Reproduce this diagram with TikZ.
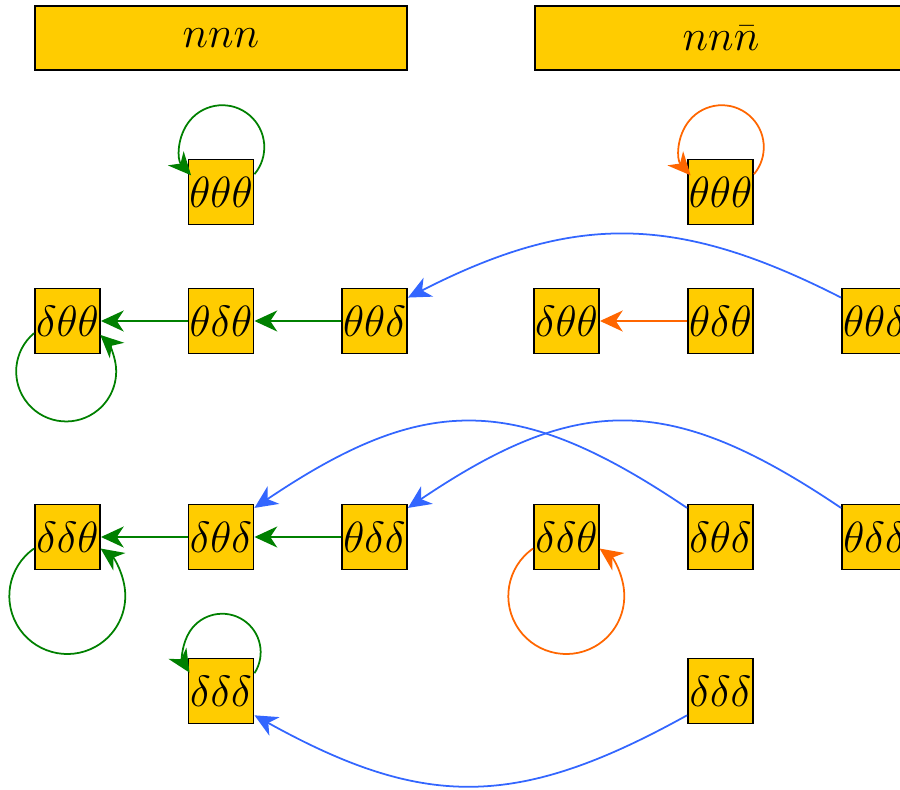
\documentclass[tikz,border=0pt]{standalone}
\usetikzlibrary{arrows.meta}
\definecolor{boxfill}{HTML}{FFCC00}
\definecolor{gr}{HTML}{008000}
\definecolor{orng}{HTML}{FF6600}
\definecolor{blu}{HTML}{3366FF}
\begin{document}
\begin{tikzpicture}[x=0.02cm,y=0.02cm,
  font=\fontsize{23}{27}\selectfont,
  state/.style={draw=black,line width=1.1pt,fill=boxfill,minimum size=1.3cm,inner sep=0pt},
  header/.style={draw=black,line width=1.1pt,fill=boxfill,minimum width=7.44cm,minimum height=1.28cm,inner sep=0pt},
  tip/.style={-{Stealth[length=13pt,width=12pt,inset=4pt]}},
  gline/.style={tip,draw=gr,line width=1pt},
  oline/.style={tip,draw=orng,line width=1pt},
  bline/.style={tip,draw=blu,line width=1pt}]
\useasboundingbox (0,0) rectangle (900,789);
\clip (0,0) rectangle (900,789);

% column headers
\node[header] (hA) at (221,751) {$nnn$};
\node[header] (hB) at (721,751) {$nn\bar{n}$};

% states, left block
\node[state] (a-ttt) at (221,597) {$\theta\theta\theta$};
\node[state] (a-dtt) at (67.5,468) {$\delta\theta\theta$};
\node[state] (a-tdt) at (221,468) {$\theta\delta\theta$};
\node[state] (a-ttd) at (374.5,468) {$\theta\theta\delta$};
\node[state] (a-ddt) at (67.5,252) {$\delta\delta\theta$};
\node[state] (a-dtd) at (221,252) {$\delta\theta\delta$};
\node[state] (a-tdd) at (374.5,252) {$\theta\delta\delta$};
\node[state] (a-ddd) at (221,98) {$\delta\delta\delta$};

% states, right block
\node[state] (b-ttt) at (720.5,597) {$\theta\theta\theta$};
\node[state] (b-dtt) at (566.5,468) {$\delta\theta\theta$};
\node[state] (b-tdt) at (720.5,468) {$\theta\delta\theta$};
\node[state] (b-ttd) at (874.5,468) {$\theta\theta\delta$};
\node[state] (b-ddt) at (566.5,252) {$\delta\delta\theta$};
\node[state] (b-dtd) at (720.5,252) {$\delta\theta\delta$};
\node[state] (b-tdd) at (874.5,252) {$\theta\delta\delta$};
\node[state] (b-ddd) at (720.5,98) {$\delta\delta\delta$};

% self loops
\draw[gline] (a-ttt.28) arc[start angle=-40,end angle=222,radius=0.84cm];
\draw[oline] (b-ttt.28) arc[start angle=-40,end angle=222,radius=0.84cm];
\draw[gline] (a-dtt.200) arc[start angle=130,end angle=407,radius=1.0cm];
\draw[gline] (a-ddt.199) arc[start angle=125,end angle=415,radius=1.16cm];
\draw[oline] (b-ddt.199) arc[start angle=125,end angle=415,radius=1.16cm];
\draw[gline] (a-ddd.28) arc[start angle=-33,end angle=212,radius=0.77cm];

% straight transitions
\draw[gline] (a-tdt) -- (a-dtt);
\draw[gline] (a-ttd) -- (a-tdt);
\draw[oline] (b-tdt) -- (b-dtt);
\draw[gline] (a-dtd) -- (a-ddt);
\draw[gline] (a-tdd) -- (a-dtd);

% transitions between the blocks
\draw[bline] (b-ttd.145) to[out=153,in=27,looseness=1.1] (a-ttd.35);
\draw[bline] (b-dtd.139) to[out=146,in=34,looseness=1.22] (a-dtd.41);
\draw[bline] (b-tdd.139) to[out=146,in=34,looseness=1.22] (a-tdd.41);
\draw[bline] (b-ddd.216) to[out=209,in=331,looseness=1.15] (a-ddd.324);
\end{tikzpicture}
\end{document}
